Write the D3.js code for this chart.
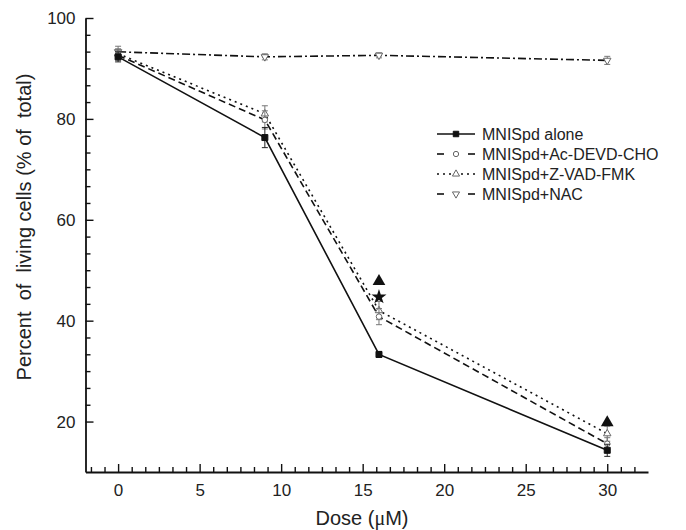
<!DOCTYPE html>
<html>
<head>
<meta charset="utf-8">
<script src="https://cdn.jsdelivr.net/npm/d3@7"></script>
<style>
  html, body { margin: 0; padding: 0; background: #fff; }
  svg { display: block; font-family: "Liberation Sans", Arial, sans-serif; }
</style>
</head>
<body>
<svg id="chart" width="686" height="530"></svg>
<script>
// ---- data ----
const doses = [0, 9, 16, 30];
const aloneVals = [92.3, 76.3, 33.3, 14.3];
const aloneErr  = [1.0, 2.0, 0.6, 1.2];
const devdVals  = [92.6, 79.8, 40.8, 15.6];
const devdErr   = [1.0, 1.8, 1.6, 1.2];
const zvadVals  = [92.9, 81.0, 42.0, 17.6];
const zvadErr   = [1.0, 1.6, 1.8, 1.5];
const nacVals   = [93.3, 92.3, 92.6, 91.6];
const nacErr    = [1.1, 0.6, 0.5, 0.8];
const seriesNames = ["MNISpd alone", "MNISpd+Ac-DEVD-CHO", "MNISpd+Z-VAD-FMK", "MNISpd+NAC"];
const xTicks = [0, 5, 10, 15, 20, 25, 30];
const yTicks = [20, 40, 60, 80, 100];
const triangleMarks = [[16, 47.8], [30, 19.8]];
const starMarks = [[16, 44.7]];

// ---- layout ----
const svg = d3.select("#chart");
const x = d3.scaleLinear().domain([-2, 32.5]).range([85.5, 648]);
const y = d3.scaleLinear().domain([10, 100]).range([472, 18]);

const series = [
  {name: seriesNames[0], vals: aloneVals, err: aloneErr, dash: null, sym: d3.symbolSquare, fill: "#111", stroke: "#111"},
  {name: seriesNames[1], vals: devdVals, err: devdErr, dash: "7,4", sym: d3.symbolCircle, fill: "#fff", stroke: "#666"},
  {name: seriesNames[2], vals: zvadVals, err: zvadErr, dash: "2,4", sym: d3.symbolTriangle, fill: "#fff", stroke: "#666"},
  {name: seriesNames[3], vals: nacVals, err: nacErr, dash: "8,3,2,3", sym: d3.symbolTriangle, fill: "#fff", stroke: "#666", flip: true}
];

// ---- axes ----
const minorX = d3.range(-12, 39).map(i => i * 5 / 6).filter(v => v >= -2 && v <= 32.5 && Math.abs(v / 5 - Math.round(v / 5)) > 1e-6);
const minorY = d3.range(6, 61).map(i => i * 20 / 6).filter(v => v >= 10 && v <= 100.01 && Math.abs(v / 20 - Math.round(v / 20)) > 1e-6);

const gx = svg.append("g").attr("transform", `translate(0,${y(10)})`);
gx.call(d3.axisBottom(x).tickValues(minorX).tickSizeInner(-5).tickSizeOuter(0).tickFormat(""));
gx.call(g => g.select(".domain").remove());
const gx2 = svg.append("g").attr("transform", `translate(0,${y(10)})`);
gx2.call(d3.axisBottom(x).tickValues(xTicks).tickSizeInner(-8).tickSizeOuter(0).tickPadding(12).tickFormat(d3.format("d")));

const gy = svg.append("g").attr("transform", `translate(${x(-2)},0)`);
gy.call(d3.axisLeft(y).tickValues(minorY).tickSizeInner(-5).tickSizeOuter(0).tickFormat(""));
gy.call(g => g.select(".domain").remove());
const gy2 = svg.append("g").attr("transform", `translate(${x(-2)},0)`);
gy2.call(d3.axisLeft(y).tickValues(yTicks).tickSizeInner(-8).tickSizeOuter(0).tickPadding(10).tickFormat(d3.format("d")));

svg.selectAll(".domain").attr("stroke", "#111").attr("stroke-width", 1.8);
svg.selectAll(".tick line").attr("stroke", "#111").attr("stroke-width", 1.4);
svg.selectAll(".tick text").attr("font-size", 17).attr("fill", "#222").attr("font-family", "Liberation Sans, Arial, sans-serif");

// axis titles
svg.append("text")
  .attr("transform", `translate(31,${227}) rotate(-90)`)
  .attr("text-anchor", "middle")
  .attr("font-size", 20).attr("fill", "#222")
  .attr("xml:space", "preserve")
  .text("Percent  of  living cells (% of  total)");

const xt = svg.append("text")
  .attr("x", 362).attr("y", 525)
  .attr("text-anchor", "middle")
  .attr("font-size", 20).attr("fill", "#222");
xt.append("tspan").text("Dose (");
xt.append("tspan").attr("font-family", "Liberation Serif, Times New Roman, serif").text("μ");
xt.append("tspan").text("M)");

// ---- series ----
const line = d3.line().x(d => x(d[0])).y(d => y(d[1]));
// draw in back-to-front order
[3, 2, 1, 0].forEach(si => {
  const s = series[si];
  const pts = doses.map((d, i) => [d, s.vals[i]]);
  svg.append("path")
    .attr("d", line(pts))
    .attr("fill", "none")
    .attr("stroke", "#111")
    .attr("stroke-width", 1.6)
    .attr("stroke-dasharray", s.dash);
  // error bars
  const eg = svg.append("g").attr("stroke", si === 0 ? "#222" : "#777").attr("stroke-width", 1);
  doses.forEach((d, i) => {
    const cx = x(d), top = y(s.vals[i] + s.err[i]), bot = y(s.vals[i] - s.err[i]);
    eg.append("line").attr("x1", cx).attr("x2", cx).attr("y1", top).attr("y2", bot);
    eg.append("line").attr("x1", cx - 3).attr("x2", cx + 3).attr("y1", top).attr("y2", top);
    eg.append("line").attr("x1", cx - 3).attr("x2", cx + 3).attr("y1", bot).attr("y2", bot);
  });
  const sym = d3.symbol().type(s.sym).size(si === 0 ? 36 : 24);
  svg.append("g").selectAll("path").data(pts).join("path")
    .attr("d", sym)
    .attr("transform", d => `translate(${x(d[0])},${y(d[1])})${s.flip ? " rotate(180)" : ""}`)
    .attr("fill", s.fill)
    .attr("stroke", s.stroke)
    .attr("stroke-width", 1);
});

// significance marks
svg.append("g").selectAll("path").data(triangleMarks).join("path")
  .attr("d", d3.symbol().type(d3.symbolTriangle).size(70))
  .attr("transform", d => `translate(${x(d[0])},${y(d[1])})`)
  .attr("fill", "#111");
svg.append("g").selectAll("path").data(starMarks).join("path")
  .attr("d", d3.symbol().type(d3.symbolStar).size(70))
  .attr("transform", d => `translate(${x(d[0])},${y(d[1])})`)
  .attr("fill", "#111");

// ---- legend ----
const lg = svg.append("g");
series.forEach((s, i) => {
  const cy = 134 + i * 20;
  const row = lg.append("g");
  if (i === 0) {
    row.append("line").attr("x1", 437).attr("x2", 475).attr("y1", cy).attr("y2", cy)
      .attr("stroke", "#111").attr("stroke-width", 1.6);
  } else if (i === 2) {
    row.append("line").attr("x1", 437).attr("x2", 475).attr("y1", cy).attr("y2", cy)
      .attr("stroke", "#111").attr("stroke-width", 1.6).attr("stroke-dasharray", "2,4");
  } else {
    row.append("line").attr("x1", 437).attr("x2", 444).attr("y1", cy).attr("y2", cy)
      .attr("stroke", "#111").attr("stroke-width", 1.6);
    row.append("line").attr("x1", 468).attr("x2", 475).attr("y1", cy).attr("y2", cy)
      .attr("stroke", "#111").attr("stroke-width", 1.6);
  }
  row.append("path")
    .attr("d", d3.symbol().type(s.sym).size(i === 0 ? 30 : 22))
    .attr("transform", `translate(456,${cy})${s.flip ? " rotate(180)" : ""}`)
    .attr("fill", i === 0 ? "#111" : "#fff")
    .attr("stroke", s.stroke).attr("stroke-width", 1);
  row.append("text")
    .attr("x", 482).attr("y", cy).attr("dy", "0.36em")
    .attr("font-size", 16).attr("fill", "#222")
    .text(s.name);
});
</script>
</body>
</html>
